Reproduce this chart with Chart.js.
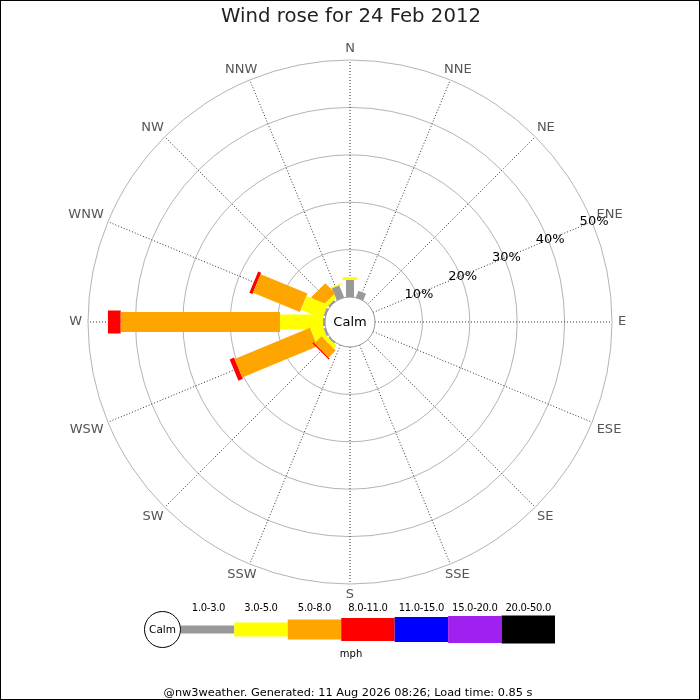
<!DOCTYPE html>
<html lang="en">
<head>
  <meta charset="UTF-8">
  <title>Wind rose for 24 Feb 2012</title>
  <script src="https://cdn.jsdelivr.net/npm/chart.js"></script>
  <style>
    body {
      margin: 0;
      background: #fff;
    }
    #rose {
      display: block;
    }
  </style>
</head>
<body>
  <canvas id="rose" width="700" height="700"></canvas>

  <script>
    // Compass directions, clockwise from north
    const directions = ['N', 'NNE', 'NE', 'ENE', 'E', 'ESE', 'SE', 'SSE',
                        'S', 'SSW', 'SW', 'WSW', 'W', 'WNW', 'NW', 'NNW'];
    // Speed classes (mph) and their colours
    const speedBins = ['1.0-3.0', '3.0-5.0', '5.0-8.0', '8.0-11.0', '11.0-15.0', '15.0-20.0', '20.0-50.0'];
    const binColors = ['#999999', '#ffff00', '#ffa500', '#ff0000', '#0000ff', '#a020f0', '#000000'];

    // Percentage of time per direction, one array per speed class
    const speed1to3   = [3.6, 1.5, 0, 0, 0, 0, 0, 0, 0, 0, 0.3, 0.4, 0.4, 0.4, 0.4, 2.7];
    const speed3to5   = [0.6, 0, 0, 0, 0, 0, 0, 0, 0, 0, 0.8, 2.6, 9.1, 4.9, 0.8, 0.3];
    const speed5to8   = [0, 0, 0, 0, 0, 0, 0, 0, 0, 0, 2.1, 17.2, 33.6, 10.7, 3.0, 0];
    const speed8to11  = [0, 0, 0, 0, 0, 0, 0, 0, 0, 0, 0.3, 1.0, 2.7, 0.7, 0, 0];
    const speed11to15 = [0, 0, 0, 0, 0, 0, 0, 0, 0, 0, 0, 0, 0, 0, 0, 0];
    const speed15to20 = [0, 0, 0, 0, 0, 0, 0, 0, 0, 0, 0, 0, 0, 0, 0, 0];
    const speed20to50 = [0, 0, 0, 0, 0, 0, 0, 0, 0, 0, 0, 0, 0, 0, 0, 0];
    const seriesBySpeed = [speed1to3, speed3to5, speed5to8, speed8to11, speed11to15, speed15to20, speed20to50];

    // Circle ticks (percent)
    const ringTicks = [10, 20, 30, 40, 50];

    // layout: pixels per percent, calm circle radius (in percent units), centre
    const PX_PER_PCT = 4.74;
    const CALM_R = 25 / PX_PER_PCT;
    const CX = 350, CY = 322, W = 700, H = 700;
    const barWidths = [8, 15, 20, 23, 25, 27, 28];
    const legendWidths = [8, 14, 20, 23, 25, 27, 28];
    const FONT = "'DejaVu Sans', sans-serif";

    function polar(r, dirIndex) {
      const a = dirIndex * Math.PI / 8;
      return { x: r * Math.sin(a), y: r * Math.cos(a) };
    }

    // one thick line segment per direction and speed class
    const datasets = [];
    directions.forEach((d, i) => {
      let start = CALM_R;
      seriesBySpeed.forEach((series, k) => {
        const v = series[i];
        if (!v) return;
        const end = start + v;
        datasets.push({
          label: d + ' ' + speedBins[k],
          data: [polar(start, i), polar(end, i)],
          showLine: true,
          borderColor: binColors[k],
          borderWidth: barWidths[k],
          borderCapStyle: 'butt',
          pointRadius: 0,
          fill: false
        });
        start = end;
      });
    });

    const roseDecor = {
      id: 'roseDecor',
      beforeDatasetsDraw(chart) {
        const ctx = chart.ctx;
        const xs = chart.scales.x, ys = chart.scales.y;
        const cx = xs.getPixelForValue(0), cy = ys.getPixelForValue(0);
        const unit = xs.getPixelForValue(1) - cx;
        ctx.save();
        ctx.fillStyle = '#fff';
        ctx.fillRect(0, 0, W, H);
        // rings
        ctx.strokeStyle = '#b4b4b4';
        ctx.lineWidth = 1;
        ringTicks.forEach(t => {
          ctx.beginPath();
          ctx.arc(cx, cy, (CALM_R + t) * unit, 0, Math.PI * 2);
          ctx.stroke();
        });
        // spokes
        const outer = CALM_R + ringTicks[ringTicks.length - 1];
        ctx.strokeStyle = '#333';
        ctx.setLineDash([1, 2]);
        directions.forEach((d, i) => {
          const p0 = polar(CALM_R, i), p1 = polar(outer, i);
          ctx.beginPath();
          ctx.moveTo(xs.getPixelForValue(p0.x), ys.getPixelForValue(p0.y));
          ctx.lineTo(xs.getPixelForValue(p1.x), ys.getPixelForValue(p1.y));
          ctx.stroke();
        });
        ctx.restore();
      },
      afterDatasetsDraw(chart) {
        const ctx = chart.ctx;
        const xs = chart.scales.x, ys = chart.scales.y;
        const cx = xs.getPixelForValue(0), cy = ys.getPixelForValue(0);
        const unit = xs.getPixelForValue(1) - cx;
        ctx.save();

        // calm circle
        ctx.beginPath();
        ctx.arc(cx, cy, CALM_R * unit, 0, Math.PI * 2);
        ctx.fillStyle = '#fff';
        ctx.fill();
        ctx.strokeStyle = '#999';
        ctx.lineWidth = 1;
        ctx.stroke();
        ctx.fillStyle = '#000';
        ctx.font = '13px ' + FONT;
        ctx.textAlign = 'center';
        ctx.textBaseline = 'middle';
        ctx.fillText('Calm', cx, cy + 1);

        // percent labels along ENE
        ringTicks.forEach(t => {
          const p = polar(CALM_R + t, 3);
          ctx.fillText(t + '%', xs.getPixelForValue(p.x) + 2, ys.getPixelForValue(p.y));
        });

        // compass labels
        ctx.fillStyle = '#555';
        directions.forEach((d, i) => {
          const a = i * Math.PI / 8;
          const hw = ctx.measureText(d).width / 2;
          const s = Math.sin(a), c = Math.cos(a);
          const lx = cx + s * (268 + hw);
          const ly = cy - c * 268 - (Math.abs(c) < 0.01 ? 0 : Math.sign(c) * 5);
          ctx.fillText(d, lx, ly);
        });

        // title
        ctx.fillStyle = '#222';
        ctx.font = '19.7px ' + FONT;
        ctx.fillText('Wind rose for 24 Feb 2012', 351, 17);

        // legend
        const ly = 629.5;
        ctx.beginPath();
        ctx.arc(162.5, ly, 18, 0, Math.PI * 2);
        ctx.strokeStyle = '#000';
        ctx.stroke();
        ctx.fillStyle = '#000';
        ctx.font = '10.5px ' + FONT;
        ctx.fillText('Calm', 162.5, ly + 1);
        ctx.textBaseline = 'alphabetic';
        ctx.font = '10px ' + FONT;
        ctx.letterSpacing = '-0.3px';
        speedBins.forEach((lab, k) => {
          const x0 = k === 0 ? 181 : 234.3 + 53.45 * (k - 1);
          const x1 = 234.3 + 53.45 * k;
          ctx.fillStyle = binColors[k];
          ctx.fillRect(x0, ly - legendWidths[k] / 2, x1 - x0, legendWidths[k]);
          ctx.fillStyle = '#000';
          const xc = k === 0 ? 208.5 : (x0 + x1) / 2;
          ctx.fillText(lab, xc, 611);
        });
        ctx.letterSpacing = '0px';
        ctx.fillText('mph', 351, 657);

        // footer
        ctx.font = '11.3px ' + FONT;
        ctx.fillText('@nw3weather. Generated: 11 Aug 2026 08:26; Load time: 0.85 s', 348, 696);

        // frame
        ctx.strokeStyle = '#000';
        ctx.strokeRect(0.5, 0.5, W - 1, H - 1);
        ctx.restore();
      }
    };

    new Chart(document.getElementById('rose'), {
      type: 'scatter',
      data: { datasets: datasets },
      options: {
        responsive: false,
        animation: false,
        devicePixelRatio: 1,
        events: [],
        layout: { padding: 0 },
        scales: {
          x: { type: 'linear', display: false, min: -CX / PX_PER_PCT, max: (W - CX) / PX_PER_PCT },
          y: { type: 'linear', display: false, min: -(H - CY) / PX_PER_PCT, max: CY / PX_PER_PCT }
        },
        plugins: {
          legend: { display: false },
          tooltip: { enabled: false }
        }
      },
      plugins: [roseDecor]
    });
  </script>
</body>
</html>
